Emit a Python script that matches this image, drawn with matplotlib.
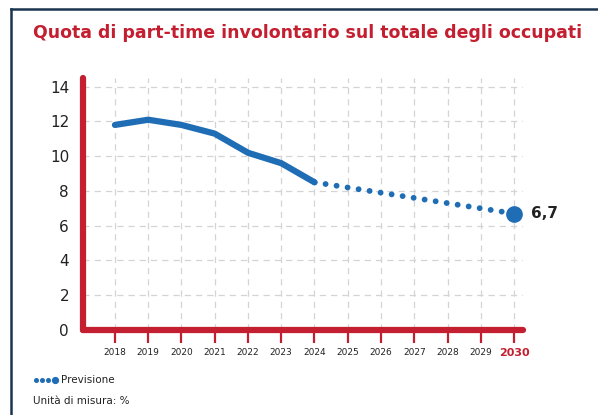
import matplotlib.pyplot as plt
from matplotlib.lines import Line2D

# data
years_hist = [2018, 2019, 2020, 2021, 2022, 2023, 2024]
values_hist = [11.8, 12.1, 11.8, 11.3, 10.2, 9.6, 8.5]
years_fc = [2024, 2025, 2026, 2027, 2028, 2029, 2030]
values_fc = [8.5, 8.2, 7.9, 7.6, 7.3, 7.0, 6.7]
all_years = list(range(2018, 2031))
y_ticks = [0, 2, 4, 6, 8, 10, 12, 14]

red = '#c41f30'
blue = '#1f6db5'
navy = '#1b3550'
dark = '#222222'

fig = plt.figure(figsize=(5.98, 4.15), dpi=100)
ax = fig.add_axes([0.1388, 0.2048, 0.8746 - 0.1388, 0.812 - 0.2048])

# frame of the panel
fig.add_artist(Line2D([11/598, 11/598], [0, 1 - 9/415], color=navy, lw=1.8, transform=fig.transFigure))
fig.add_artist(Line2D([11/598, 1], [1 - 9/415, 1 - 9/415], color=navy, lw=1.8, transform=fig.transFigure))

fig.text(33/598, 1 - 33/415, 'Quota di part-time involontario sul totale degli occupati',
         color=red, fontsize=12.5, fontweight='bold', va='center', ha='left')

ax.plot(years_hist, values_hist, color=blue, lw=4.5, solid_capstyle='round', zorder=3)
# forecast: dotted line
ax.plot(years_fc, values_fc, color=blue, lw=4.2, linestyle=(1.9, (0.01, 1.9)),
        dash_capstyle='round', zorder=3)
ax.plot([years_fc[-1]], [values_fc[-1]], 'o', color=blue, ms=11, zorder=4)
ax.text(years_fc[-1] + 0.5, values_fc[-1], '6,7', color=dark, fontsize=11,
        fontweight='bold', va='center', ha='left')

ax.set_xlim(2017.04, 2030.27)
ax.set_ylim(0, 14.5)
ax.set_xticks(all_years)
ax.set_xticklabels([str(y) for y in all_years], fontsize=6.5, color=dark)
lbl = ax.get_xticklabels()[-1]
lbl.set_color(red)
lbl.set_fontweight('bold')
lbl.set_fontsize(8)
ax.set_yticks(y_ticks)
ax.set_yticklabels([str(v) for v in y_ticks], fontsize=11, color=dark)
ax.tick_params(axis='x', direction='out', length=9, width=1.6, color=red, pad=4)
ax.tick_params(axis='y', length=0, pad=10)

ax.grid(True, color='#d4d4d4', linestyle=(0, (5, 4)), lw=0.9)
ax.set_axisbelow(True)

for s in ['top', 'right']:
    ax.spines[s].set_visible(False)
for s in ['left', 'bottom']:
    ax.spines[s].set_color(red)
    ax.spines[s].set_linewidth(4.5)
    ax.spines[s].set_capstyle('round')

# legend
for x in [36, 42, 48]:
    fig.add_artist(Line2D([x/598], [1 - 380/415], marker='o', ms=2.6, color=blue,
                          transform=fig.transFigure))
fig.add_artist(Line2D([55/598], [1 - 380/415], marker='o', ms=4.2, color=blue,
                      transform=fig.transFigure))
fig.text(61/598, 1 - 380/415, 'Previsione', fontsize=7.5, color=dark, va='center')
fig.text(33/598, 1 - 401/415, 'Unità di misura: %', fontsize=7.5, color=dark, va='center')

fig.savefig('out.png', dpi=100)
